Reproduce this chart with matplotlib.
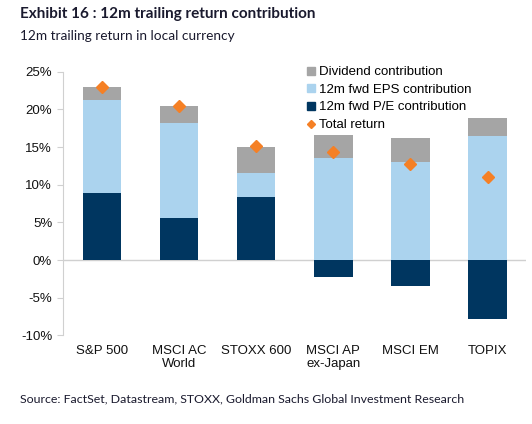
import matplotlib.pyplot as plt
from matplotlib.lines import Line2D
from matplotlib.patches import Patch
import numpy as np

# data (%)
categories = ['S&P 500', 'MSCI AC\nWorld', 'STOXX 600', 'MSCI AP\nex-Japan', 'MSCI EM', 'TOPIX']
pe_contrib = [8.9, 5.6, 8.4, -2.2, -3.4, -7.8]
eps_contrib = [12.35, 12.55, 3.2, 13.5, 13.0, 16.45]
div_contrib = [1.75, 2.3, 3.45, 3.1, 3.2, 2.4]
total_return = [23.0, 20.4, 15.1, 14.35, 12.7, 11.0]
yticks = [-10, -5, 0, 5, 10, 15, 20, 25]

navy = '#003660'
light_blue = '#abd3ee'
grey = '#a5a5a5'
orange = '#f58025'
axis_grey = '#d0d0d0'

plt.rcParams['font.family'] = ['Liberation Sans', 'DejaVu Sans']

fig = plt.figure(figsize=(5.32, 4.24), dpi=100)
ax = fig.add_axes([0.119, 0.209, 0.870, 0.622])

x = np.arange(len(categories))
pe = np.array(pe_contrib)
eps = np.array(eps_contrib)
div = np.array(div_contrib)

# positive parts stack on a positive P/E, negative P/E hangs below zero
base_eps = np.where(pe > 0, pe, 0)
ax.bar(x, pe, width=0.5, color=navy, zorder=2)
ax.bar(x, eps, width=0.5, bottom=base_eps, color=light_blue, zorder=2)
ax.bar(x, div, width=0.5, bottom=base_eps + eps, color=grey, zorder=2)
ax.plot(x, total_return, linestyle='none', marker='D', markersize=6,
        color=orange, zorder=3)

ax.axhline(0, color=axis_grey, linewidth=1, zorder=1)

ax.set_xlim(-0.5, len(categories) - 0.5)
ax.set_ylim(-10, 25)
ax.set_yticks(yticks)
ax.set_yticklabels([f'{v}%' for v in yticks], fontsize=9.5, color='#111111')
ax.set_xticks(x)
ax.set_xticklabels(categories, fontsize=9.5, color='#111111', linespacing=1.05)
ax.tick_params(axis='x', length=0, pad=7)
ax.tick_params(axis='y', length=4, color=axis_grey, direction='out', pad=4)

for side in ['top', 'right', 'bottom']:
    ax.spines[side].set_visible(False)
ax.spines['left'].set_color(axis_grey)

handles = [
    Patch(color=grey, label='Dividend contribution'),
    Patch(color=light_blue, label='12m fwd EPS contribution'),
    Patch(color=navy, label='12m fwd P/E contribution'),
    Line2D([], [], linestyle='none', marker='D', markersize=4, color=orange,
           label='Total return'),
]
ax.legend(handles=handles, loc='upper left', bbox_to_anchor=(0.515, 1.04),
          frameon=False, fontsize=9.5, handlelength=0.6, handleheight=0.6,
          handletextpad=0.3, labelspacing=0.42, borderaxespad=0)

fig.text(0.038, 0.968, 'Exhibit 16 : 12m trailing return contribution',
         fontsize=11, fontweight='bold', color='#1a1a2e', family='Lato', va='center')
fig.text(0.038, 0.915, '12m trailing return in local currency',
         fontsize=9.8, color='#1a1a2e', family='Lato', va='center')
fig.text(0.038, 0.058, 'Source: FactSet, Datastream, STOXX, Goldman Sachs Global Investment Research',
         fontsize=8.9, color='#1a1a2e', family='Lato', va='center')

fig.savefig('out.png', dpi=100)
